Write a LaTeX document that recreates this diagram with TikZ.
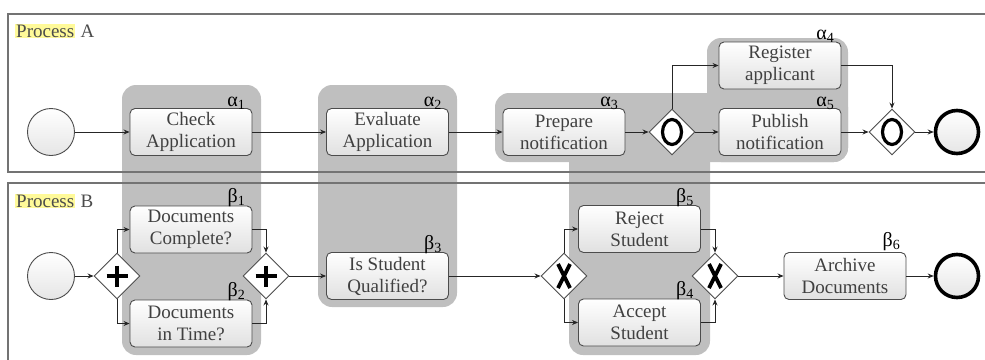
\documentclass[tikz,border=0pt]{standalone}
\usepackage{fontspec}
\setmainfont{Liberation Serif}
\usetikzlibrary{arrows.meta,shapes.geometric}

\tikzset{
  task/.style={draw=black!70, line width=0.9pt, rounded corners=5pt,
    top color=white, bottom color=black!12, minimum width=122pt,
    minimum height=47pt, align=center, inner sep=1pt,
    font=\fontsize{19}{22}\selectfont, text=black!75},
  gate/.style={diamond, draw=black!70, line width=0.9pt, fill=white,
    minimum width=46pt, minimum height=46pt, inner sep=0pt},
  startev/.style={circle, draw=black!70, line width=0.9pt, top color=white,
    bottom color=black!10, minimum size=47pt, inner sep=0pt},
  endev/.style={circle, draw=black, line width=3.6pt, top color=white,
    bottom color=black!10, minimum size=43pt, inner sep=0pt},
  region/.style={fill=black!25, rounded corners=14pt},
  flow/.style={->, line width=0.8pt, draw=black!85},
  tag/.style={font=\fontsize{20}{20}\selectfont, text=black, inner sep=0pt, anchor=base east},
  pool/.style={draw=black!55, line width=1.5pt},
  poollabel/.style={font=\fontsize{19}{22}\selectfont, text=black!70, inner sep=1pt, anchor=base west}
}

\begin{document}
\begin{tikzpicture}[x=1pt, y=-1pt, >={Stealth[length=6pt,width=5pt]}]
  \useasboundingbox (0,0) rectangle (985,359);
  % shaded groups
  \fill[region] (122,85) rectangle (261,355);
  \fill[region] (318,85) rectangle (457,307);
  \fill[region] (495,93) rectangle (848,162);
  \fill[region] (569,93) rectangle (710,355);
  \fill[region] (707,38) rectangle (848,162);
  % pools
  \draw[pool] (990,14) -- (8,14) -- (8,172) -- (990,172);
  \draw[pool] (990,183) -- (8,183) -- (8,365);
  \node[poollabel, fill=yellow!40] (pla) at (15,37) {Process};
  \node[poollabel] at ([xshift=4pt]pla.base east) {A};
  \node[poollabel, fill=yellow!40] (plb) at (15,207) {Process};
  \node[poollabel] at ([xshift=4pt]plb.base east) {B};

  % process A
  \node[startev] (sa) at (51,132) {};
  \node[task] (chk) at (191,132) {Check\\Application};
  \node[task] (eva) at (387.5,132) {Evaluate\\Application};
  \node[task] (prep) at (564,132) {Prepare\\notification};
  \node[gate] (ga1) at (672,132) {};
  \node[task] (reg) at (780,65.5) {Register\\applicant};
  \node[task] (pub) at (780,132) {Publish\\notification};
  \node[gate] (ga2) at (892,132) {};
  \node[endev] (ea) at (957,132) {};
  \foreach \g in {ga1,ga2}
    \draw[line width=3.2pt] (\g.center) ellipse (9.5pt and 12.5pt);
  \node[tag] at ([xshift=-7pt,yshift=2pt]chk.north east) {α\textsubscript{1}};
  \node[tag] at ([xshift=-7pt,yshift=2pt]eva.north east) {α\textsubscript{2}};
  \node[tag] at ([xshift=-7pt,yshift=2pt]prep.north east) {α\textsubscript{3}};
  \node[tag] at ([xshift=-7pt,yshift=2pt]reg.north east) {α\textsubscript{4}};
  \node[tag] at ([xshift=-7pt,yshift=2pt]pub.north east) {α\textsubscript{5}};
  \draw[flow] (sa) -- (chk);
  \draw[flow] (chk) -- (eva);
  \draw[flow] (eva) -- (prep);
  \draw[flow] (prep) -- (ga1);
  \draw[flow] (ga1) -- (pub);
  \draw[flow] (ga1.north) |- (reg.west);
  \draw[flow] (reg.east) -| (ga2.north);
  \draw[flow] (pub) -- (ga2);
  \draw[flow] (ga2) -- (ea);

  % process B
  \node[startev] (sb) at (51,276) {};
  \node[gate] (gb1) at (117,276) {};
  \node[task] (dcomp) at (191,229.5) {Documents\\Complete?};
  \node[task] (dtime) at (191,323.5) {Documents\\in Time?};
  \node[gate] (gb2) at (266,276) {};
  \node[task] (qual) at (387.5,276) {Is Student\\Qualified?};
  \node[gate] (gb3) at (564,276) {};
  \node[task] (rej) at (639.5,229) {Reject\\Student};
  \node[task] (acc) at (639.5,322.5) {Accept\\Student};
  \node[gate] (gb4) at (715,276) {};
  \node[task] (arch) at (845,276) {Archive\\Documents};
  \node[endev] (eb) at (957,276) {};
  \foreach \g in {gb1,gb2}
    \draw[line width=4.5pt] ([yshift=10.5pt]\g.center) -- ([yshift=-10.5pt]\g.center)
      ([xshift=-10.5pt]\g.center) -- ([xshift=10.5pt]\g.center);
  \foreach \g in {gb3,gb4}
    \draw[line width=3.8pt] ([xshift=-6pt,yshift=12pt]\g.center) -- ([xshift=6pt,yshift=-12pt]\g.center)
      ([xshift=6pt,yshift=12pt]\g.center) -- ([xshift=-6pt,yshift=-12pt]\g.center);
  \node[tag] at ([xshift=-7pt,yshift=3pt]dcomp.north east) {β\textsubscript{1}};
  \node[tag] at ([xshift=-7pt,yshift=3pt]dtime.north east) {β\textsubscript{2}};
  \node[tag] at ([xshift=-7pt,yshift=3pt]qual.north east) {β\textsubscript{3}};
  \node[tag] at ([xshift=-7pt,yshift=3pt]acc.north east) {β\textsubscript{4}};
  \node[tag] at ([xshift=-7pt,yshift=3pt]rej.north east) {β\textsubscript{5}};
  \node[tag] at ([xshift=-6pt,yshift=6pt]arch.north east) {β\textsubscript{6}};
  \draw[flow] (sb) -- (gb1);
  \draw[flow] (gb1.north) |- (dcomp.west);
  \draw[flow] (gb1.south) |- (dtime.west);
  \draw[flow] (dcomp.east) -| (gb2.north);
  \draw[flow] (dtime.east) -| (gb2.south);
  \draw[flow] (gb2) -- (qual);
  \draw[flow] (qual) -- (gb3);
  \draw[flow] (gb3.north) |- (rej.west);
  \draw[flow] (gb3.south) |- (acc.west);
  \draw[flow] (rej.east) -| (gb4.north);
  \draw[flow] (acc.east) -| (gb4.south);
  \draw[flow] (gb4) -- (arch);
  \draw[flow] (arch) -- (eb);
\end{tikzpicture}
\end{document}
